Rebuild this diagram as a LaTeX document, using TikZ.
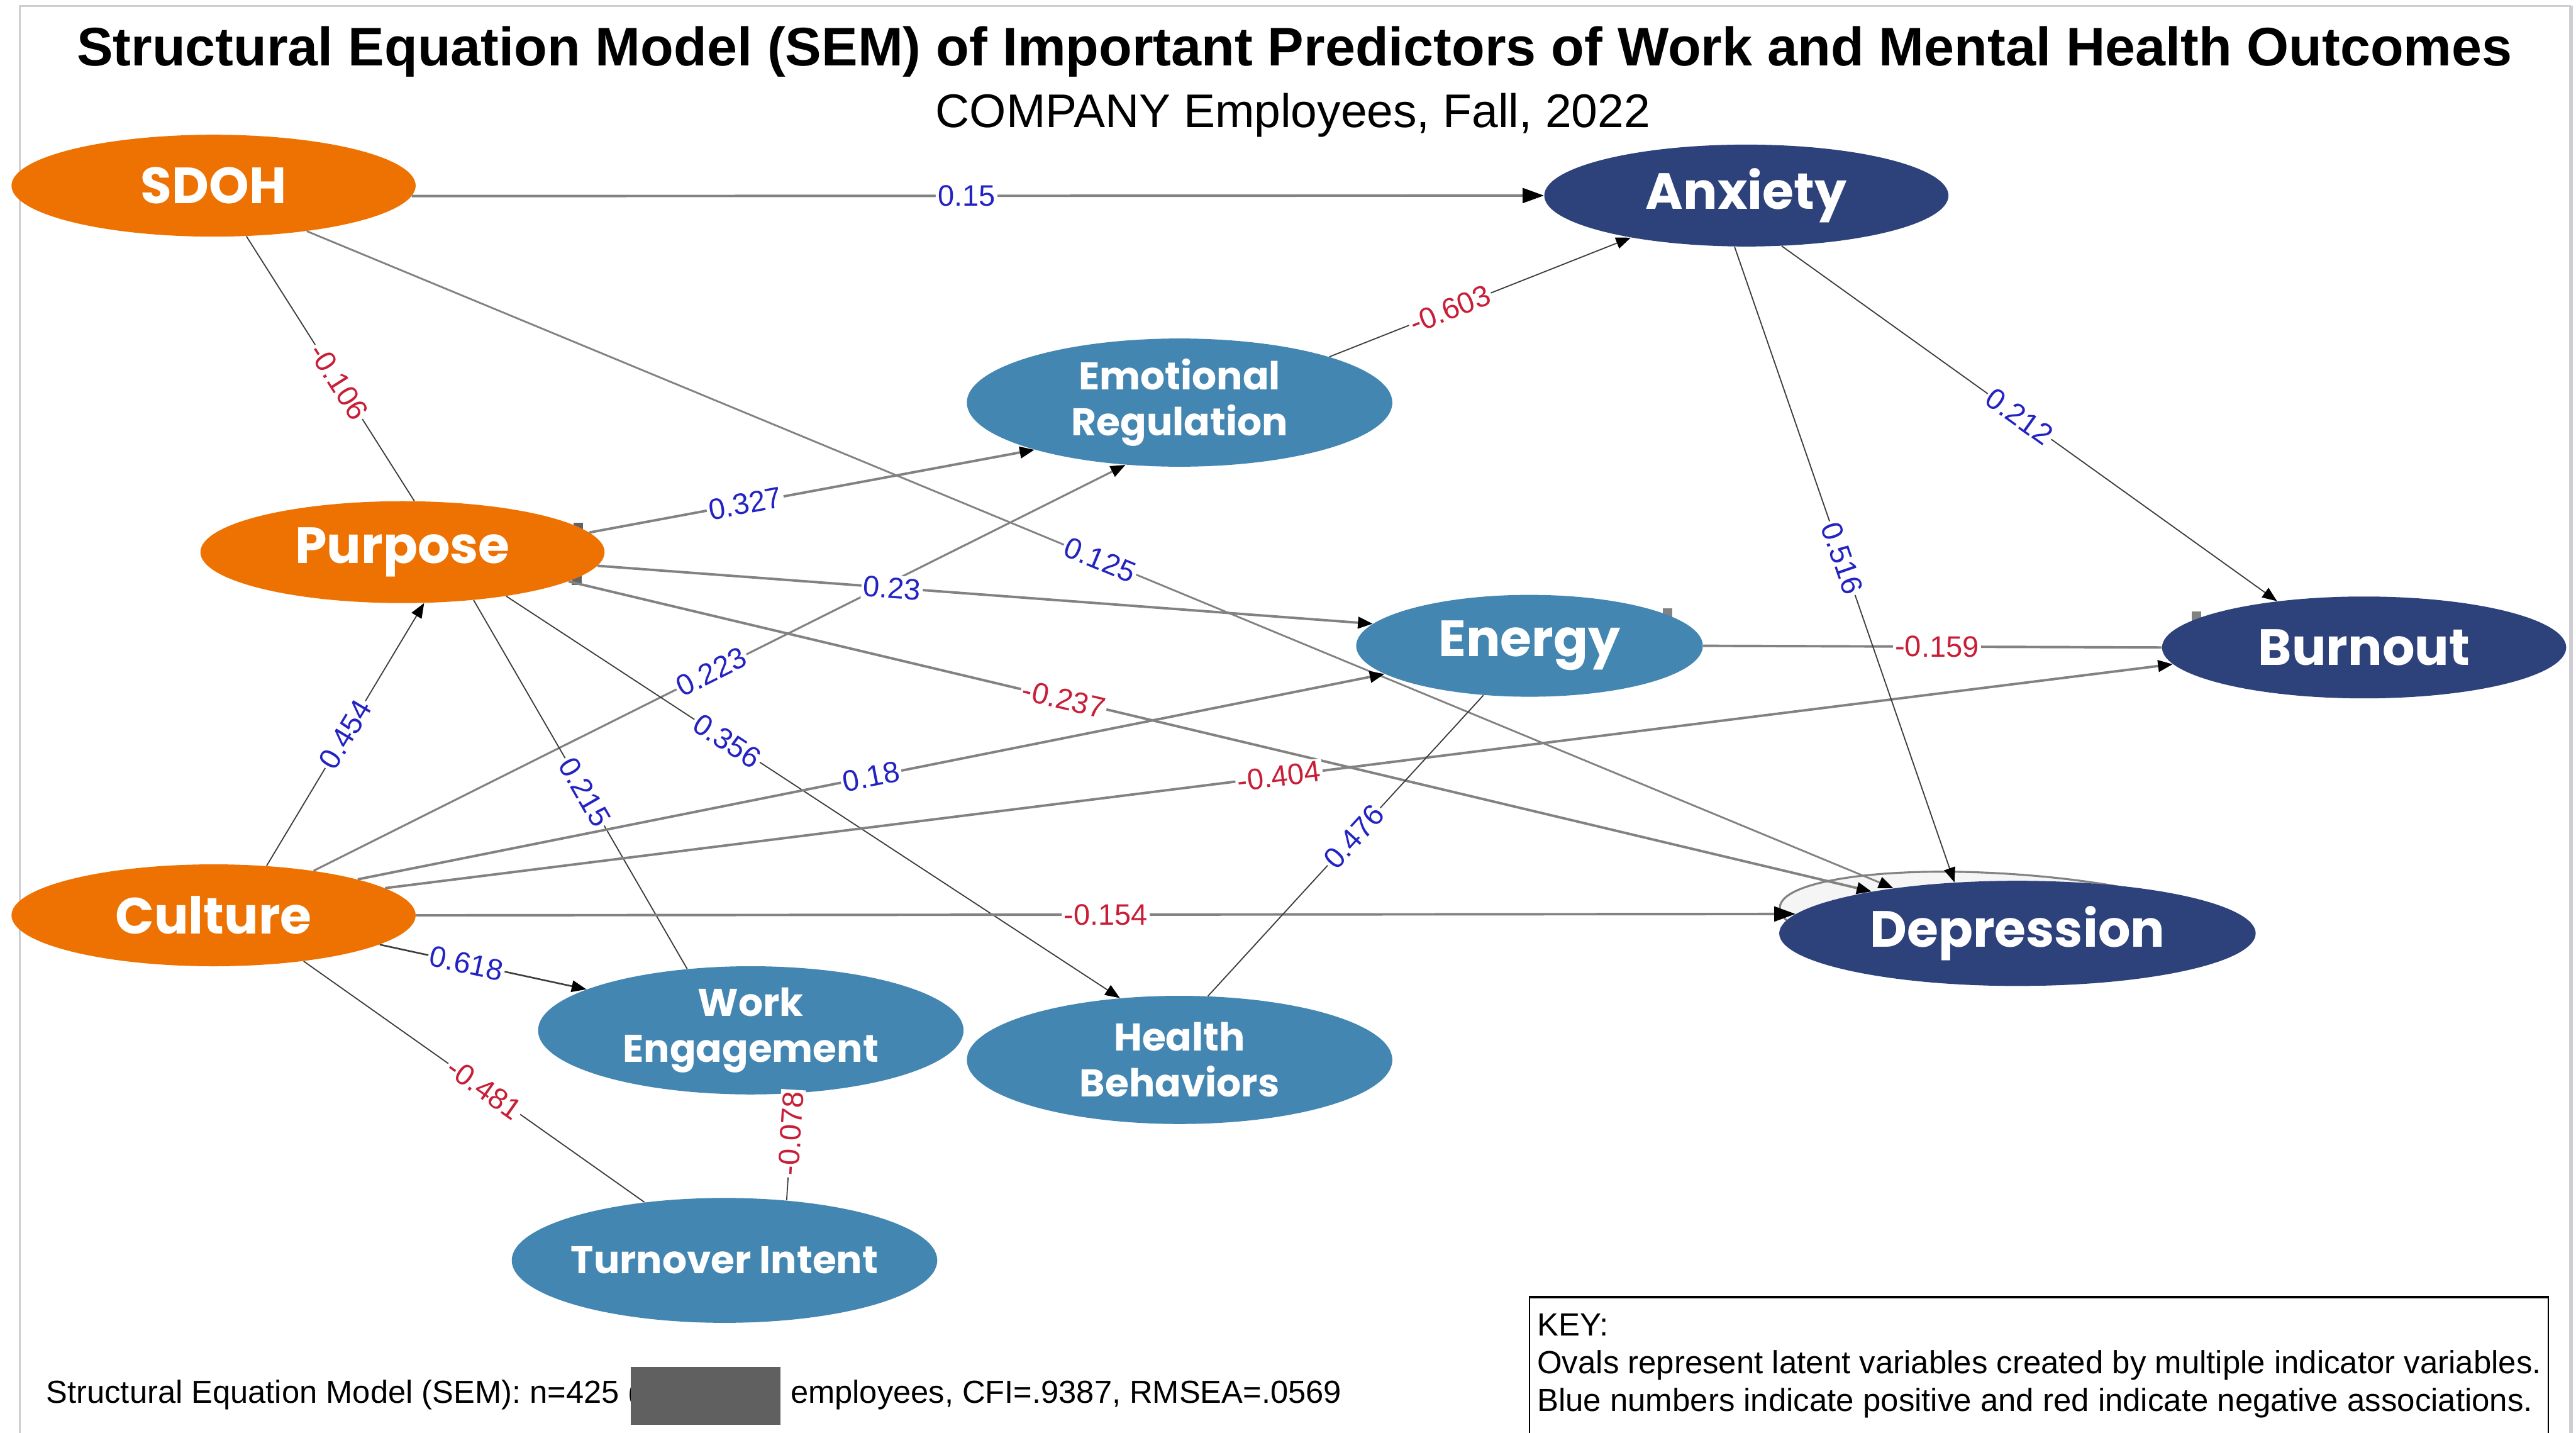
\documentclass[tikz,border=0pt]{standalone}
\usepackage{fontspec}
\usepackage{graphicx}
\usetikzlibrary{shapes.geometric,arrows.meta}
\setmainfont{Liberation Sans}
\newfontfamily\ovalfont{Poppins}
\definecolor{semorange}{RGB}{238,114,2}
\definecolor{semnavy}{RGB}{45,65,122}
\definecolor{semsteel}{RGB}{67,134,177}
\definecolor{posblue}{RGB}{35,35,195}
\definecolor{negred}{RGB}{200,30,55}
\definecolor{thinline}{RGB}{60,60,60}
\definecolor{thickline}{RGB}{130,130,130}
\definecolor{framegray}{RGB}{205,205,210}
\definecolor{maskgray}{RGB}{96,96,96}
\begin{document}
\begin{tikzpicture}[x=1pt,y=-1pt,
  latent/.style={ellipse, inner xsep=-45pt, inner ysep=-14pt, text=white, align=center},
  bigtext/.style={font=\ovalfont\bfseries\fontsize{31}{31}\selectfont},
  smalltext/.style={font=\ovalfont\bfseries\fontsize{23.5}{28}\selectfont},
  predictor/.style={latent, bigtext, fill=semorange, minimum width=246pt, minimum height=62pt},
  outcome/.style={latent, bigtext, fill=semnavy, minimum width=246pt, minimum height=62pt},
  mediator/.style={latent, smalltext, fill=semsteel, minimum width=259pt, minimum height=78pt},
  thinedge/.style={draw=thinline, line width=0.7pt},
  thickedge/.style={draw=thickline, line width=1.5pt},
  tip/.style={-{Triangle[length=9pt,width=7pt,color=black]}},
  bigtip/.style={-{Triangle[length=13pt,width=9pt,color=black]}},
  coef/.style={font=\fontsize{18}{18}\selectfont, fill=white, inner sep=1.2pt, sloped},
  pos coef/.style={coef, text=posblue},
  neg coef/.style={coef, text=negred},
  plain/.style={inner sep=0pt, text=black}
]
\useasboundingbox (0,0) rectangle (1568,872);

% page frame
\draw[framegray, line width=1.2pt] (12,872) -- (12,3.6) -- (1565,3.6);
\draw[framegray, line width=2.5pt] (1565,3.6) -- (1565,872);

% headings
\node[plain, anchor=base] (title) at (788,40)
  {\resizebox{1482pt}{!}{\bfseries Structural Equation Model (SEM) of Important Predictors of Work and Mental Health Outcomes}};
\node[plain, anchor=base] (subtitle) at (787,77.5)
  {\resizebox{435pt}{!}{COMPANY Employees, Fall, 2022}};

% faint box outlines peeking out behind some ovals
\fill[thinline!80] (349,318) rectangle (355,324);
\fill[thinline!80] (348,350) rectangle (354,356);
\fill[thickline] (1012,370) rectangle (1018,376);
\fill[thickline] (1334,372) rectangle (1340,378);

% latent variables
\node[predictor] (sdoh) at (130,113) {SDOH};
\node[predictor] (pur) at (245,336) {Purpose};
\node[predictor] (cul) at (130,557) {Culture};
\node[outcome] (anx) at (1063,119) {Anxiety};
\node[outcome] (bur) at (1439,394) {Burnout};
\node[ellipse, draw=thickline, line width=1.2pt, fill=white!92!gray,
      minimum width=284pt, minimum height=60pt, rotate=-4] (depring) at (1225,562) {};
\node[outcome, minimum width=290pt, minimum height=64pt] (dep) at (1228,568) {Depression};
\node[mediator] (emo) at (718,245) {Emotional\\Regulation};
\node[latent, bigtext, fill=semsteel, minimum width=211pt, minimum height=62pt] (ene) at (931,393) {Energy};
\node[mediator] (wor) at (457,627) {Work\\Engagement};
\node[mediator] (hea) at (718,645) {Health\\Behaviors};
\node[mediator, minimum height=76pt] (tur) at (441,767) {Turnover Intent};

% paths
\draw[thickedge, bigtip] (sdoh.-3) -- node[pos coef, pos=0.49] {0.15} (anx.west);
\draw[thinedge] (sdoh.-57) -- node[neg coef, pos=0.55] {-0.106} (pur.77);
\draw[thickedge, line width=1.1pt, tip] (sdoh.-26) -- node[pos coef, pos=0.5] {0.125} (dep.160);
\draw[thickedge, tip] (pur.6) -- node[pos coef, pos=0.35] {0.327} (emo.198);
\draw[thickedge, line width=1.2pt, tip] (cul.24) -- node[pos coef, pos=0.49] {0.223} (emo.229);
\draw[thickedge, tip] (pur.-4) -- node[pos coef, pos=0.38] {0.23} (ene.172);
\draw[thickedge, tip] (pur.-10) -- node[neg coef, pos=0.38] {-0.237} (dep.164);
\draw[thinedge] (pur.-34) -- node[pos coef, pos=0.52] {0.215} (wor.136);
\draw[thinedge, tip] (pur.-23) -- node[pos coef, pos=0.36] {0.356} (hea.134);
\draw[thinedge, tip] (cul.43) -- node[pos coef, pos=0.5] {0.454} (pur.-67);
\draw[thickedge, tip] (cul.14) -- node[pos coef, pos=0.5] {0.18} (ene.191);
\draw[thickedge, tip] (cul.9) -- node[neg coef, pos=0.5] {-0.404} (bur.185);
\draw[thickedge, bigtip] (cul.east) -- node[neg coef, pos=0.5] {-0.154} (dep.175);
\draw[thinedge, line width=1pt, tip] (cul.-10) -- node[pos coef, pos=0.42] {0.618} (wor.166);
\draw[thinedge] (cul.-27) -- node[neg coef, pos=0.53] {-0.481} (tur.144);
\draw[thinedge] (wor.-56) -- node[neg coef, pos=0.375] {-0.078} (tur.44);
\draw[thinedge, tip] (emo.17) -- node[neg coef, pos=0.4] {-0.603} (anx.200);
\draw[thickedge] (ene.east) -- node[neg coef, pos=0.51] {-0.159} (bur.west);
\draw[thinedge] (hea.66) -- node[pos coef, pos=0.53] {0.476} (ene.227);
\draw[thinedge, tip] (anx.-55) -- node[pos coef, pos=0.48] {0.212} (bur.152);
\draw[thinedge, tip] (anx.-103) -- node[pos coef, pos=0.49] {0.516} (dep.141);

% model fit note
\node[plain, anchor=base west, font=\fontsize{19.4}{19.4}\selectfont] (fit) at (28,854)
  {Structural Equation Model (SEM): n=425 (};
\fill[maskgray] (384,832) rectangle (475,867);
\node[plain, anchor=base west, font=\fontsize{19.4}{19.4}\selectfont] (fit2) at (481,854)
  {employees, CFI=.9387, RMSEA=.0569};

% key
\draw[black, line width=0.7pt] (931,872) -- (931,789.5);
\draw[black, line width=0.7pt] (1551,872) -- (1551,789.5);
\draw[black, line width=1.6pt] (930.6,789.5) -- (1551.4,789.5);
\node[plain, anchor=base west, font=\fontsize{19.5}{19.5}\selectfont] (keyhead) at (935.5,813) {KEY:};
\node[plain, anchor=base west, font=\fontsize{19.5}{19.5}\selectfont] (keyovals) at (935.5,836)
  {Ovals represent latent variables created by multiple indicator variables.};
\node[plain, anchor=base west, font=\fontsize{19.5}{19.5}\selectfont] (keycolors) at (935.5,859)
  {Blue numbers indicate positive and red indicate negative associations.};
\end{tikzpicture}
\end{document}
